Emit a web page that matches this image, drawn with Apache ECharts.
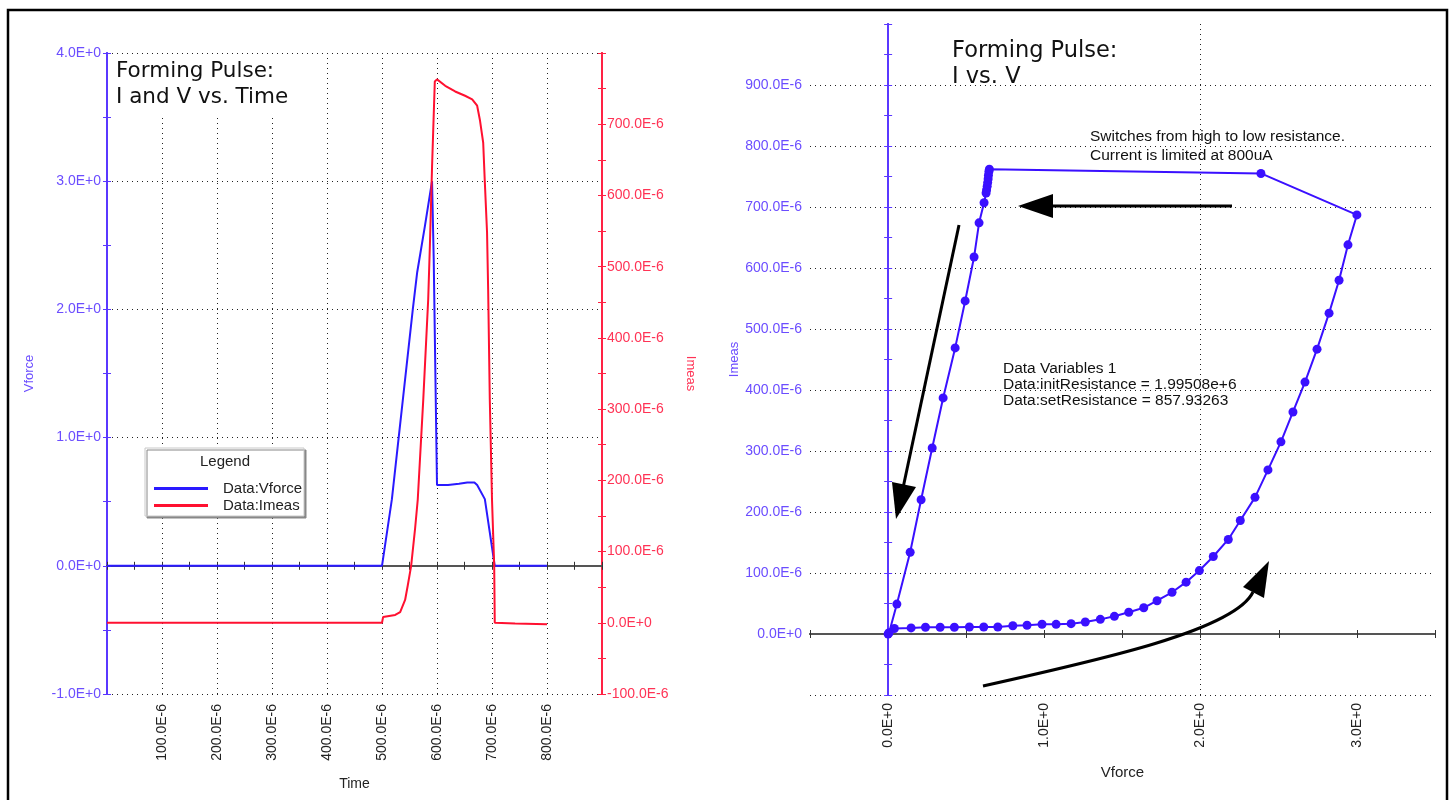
<!DOCTYPE html>
<html><head><meta charset="utf-8">
<script src="https://cdn.jsdelivr.net/npm/echarts/dist/echarts.min.js"></script>
<style>html,body{margin:0;padding:0;background:#fff}#c{width:1455px;height:800px}</style>
</head><body><div id="c"></div><script>
// ---- Left chart: Forming pulse, I and V vs. time (time in E-6 s, Imeas in E-6 A) ----
const timeV  = [0, 500, 518, 556, 564, 578, 591, 594, 600, 620, 640, 655, 668, 673, 687, 705, 800];
const vforce = [0, 0, 0.52, 2.0, 2.29, 2.65, 3.0, 2.4, 0.63, 0.63, 0.64, 0.65, 0.65, 0.63, 0.52, 0, 0];
const timeI  = [0, 500, 502, 524, 533, 542, 547, 553, 560, 565, 575, 584, 587, 591, 593, 596, 600, 615, 633, 651,
                664, 673, 678, 684, 687, 691, 693, 696, 700, 704, 705, 742, 800];
const imeas  = [0, 0, 8, 11, 15, 32, 53, 80, 131, 173, 313, 454, 528, 640, 688, 760, 763, 754, 746, 740,
                735, 726, 706, 674, 618, 548, 468, 313, 173, 80, 0, -1, -2];
// ---- Right chart: I vs. V (Imeas in E-6 A) ----
const ivV = [0, 0.04, 0.147, 0.239, 0.333, 0.424, 0.520, 0.612, 0.702, 0.798, 0.889, 0.985, 1.075, 1.171, 1.262,
             1.358, 1.448, 1.540, 1.636, 1.721, 1.817, 1.907, 1.992, 2.081, 2.177, 2.254, 2.348, 2.431, 2.514, 2.591,
             2.668, 2.745, 2.822, 2.886, 2.943, 3.0, 2.386, 0.648, 0.645, 0.642, 0.640, 0.637, 0.634, 0.630, 0.627, 0.614,
             0.582, 0.550, 0.493, 0.429, 0.352, 0.282, 0.211, 0.141, 0.056, 0.006];
const ivI = [0, 9, 10, 11, 11, 11, 11.5, 11.5, 11.5, 13.6, 14.3, 15.9, 15.8, 16.9, 19.7,
             24, 29, 35.6, 43, 54.6, 68.4, 85, 104, 127, 155, 186, 224, 269, 315, 364,
             413, 467, 526, 580, 638, 687, 755, 762, 758, 752, 746, 740, 734, 728, 723, 707,
             674, 618, 546, 469, 387, 305, 220, 134, 49, 2];
// ---- Texts ----
const leftTitle = 'Forming Pulse:\nI and V vs. Time';
const rightTitle = 'Forming Pulse:\nI vs. V';
const legendNames = ['Data:Vforce', 'Data:Imeas'];
const noteSwitch = 'Switches from high to low resistance.\nCurrent is limited at 800uA';
const noteVars = 'Data Variables 1\nData:initResistance = 1.99508e+6\nData:setResistance = 857.93263';

const FONT = 'Liberation Sans, Arial, sans-serif';
const TFONT = 'DejaVu Sans, Liberation Sans, sans-serif';
const BLUE_AX = '#5a38ff', BLUE_LBL = '#6b4dff', RED_AX = '#ff2244', RED_LBL = '#ff3355';
const BLUE_LN = '#2a1aff', RED_LN = '#ff1030', IV_C = '#3a10ff', ZERO = '#555';
const dotted = {show: true, showMinLine: true, showMaxLine: true, lineStyle: {type: [1, 4], color: '#222', width: 1}};
const fmtV = v => Math.abs(v) < 1e-9 ? '0.0E+0' : v.toFixed(1) + 'E+0';
const fmtU = v => Math.abs(v) < 1e-9 ? '0.0E+0' : v.toFixed(1) + 'E-6';
const zip = (a, b) => a.map((x, i) => [x, b[i]]);

// tick-only helper axis (drawn twice, outside + inside, to get ticks crossing the axis line)
function tickAxis(base, inside, color, lineColor) {
  return Object.assign({type: 'value', offset: 0, axisLabel: {show: false}, splitLine: {show: false},
    axisTick: {show: true, inside: inside, length: 4, lineStyle: {color: color, width: 1}},
    minorTick: {show: true, splitNumber: 2, length: 4, lineStyle: {color: color, width: 1}}}, base,
    {axisLine: Object.assign({show: true, lineStyle: {color: lineColor, width: 2}}, base.axisLine)});
}

const chart = echarts.init(document.getElementById('c'));
chart.setOption({
  animation: false,
  textStyle: {fontFamily: FONT},
  grid: [
    {left: 107, top: 53, width: 495, height: 641},
    {left: 810, top: 24, width: 625, height: 671}
  ],
  title: [
    {text: leftTitle, left: 112, top: 55, padding: [3, 10, 5, 4], backgroundColor: '#fff',
     textStyle: {fontSize: 21.5, fontWeight: 'normal', color: '#111', lineHeight: 26, fontFamily: TFONT}},
    {text: rightTitle, left: 948, top: 36, padding: [2, 4, 2, 4],
     textStyle: {fontSize: 22.5, fontWeight: 'normal', color: '#111', lineHeight: 26, fontFamily: TFONT}}
  ],
  legend: {data: legendNames, orient: 'vertical', left: 149, top: 475, z: 10, selectedMode: false,
    icon: 'rect', itemWidth: 54, itemHeight: 3, itemGap: 0,
    textStyle: {fontSize: 15, color: '#222', lineHeight: 17, padding: [0, 0, 0, 10], fontFamily: FONT}},
  xAxis: [
    // 0: time labels + vertical grid
    {gridIndex: 0, type: 'value', min: 0, max: 900, interval: 100, position: 'bottom',
     axisLine: {show: false, onZero: false}, axisTick: {show: false},
     axisLabel: {rotate: 90, margin: 10, fontSize: 14, color: '#222', formatter: v => (v > 0 && v < 900) ? fmtU(v) : ''},
     splitLine: Object.assign({}, dotted, {showMinLine: false, showMaxLine: false}),
     name: 'Time', nameLocation: 'middle', nameGap: 83, nameTextStyle: {fontSize: 14, color: '#222'}},
    // 1,2: zero line (Vforce = 0)
    tickAxis({gridIndex: 0, min: 0, max: 900, interval: 100, position: 'bottom',
      axisLine: {onZero: true, onZeroAxisIndex: 0}}, false, '#333', ZERO),
    tickAxis({gridIndex: 0, min: 0, max: 900, interval: 100, position: 'bottom',
      axisLine: {onZero: true, onZeroAxisIndex: 0}}, true, '#333', ZERO),
    // 3: Vforce labels + vertical grid (right chart)
    {gridIndex: 1, type: 'value', min: -0.5, max: 3.5, interval: 0.5, position: 'bottom',
     axisLine: {show: false, onZero: false}, axisTick: {show: false, customValues: [1, 2, 3]},
     axisLabel: {rotate: 90, margin: 8, fontSize: 14, color: '#222', customValues: [0, 1, 2, 3], formatter: fmtV},
     splitLine: Object.assign({}, dotted, {showMinLine: false, showMaxLine: false}),
     name: 'Vforce', nameLocation: 'middle', nameGap: 70, nameTextStyle: {fontSize: 15, color: '#222'}},
    // 4,5: zero line (Imeas = 0)
    tickAxis({gridIndex: 1, min: -0.5, max: 3.5, interval: 0.5, position: 'bottom', minorTick: {show: false},
      axisLine: {onZero: true, onZeroAxisIndex: 4}}, false, '#333', ZERO),
    tickAxis({gridIndex: 1, min: -0.5, max: 3.5, interval: 0.5, position: 'bottom', minorTick: {show: false},
      axisLine: {onZero: true, onZeroAxisIndex: 4}}, true, '#333', ZERO)
  ],
  yAxis: [
    // 0: Vforce
    {gridIndex: 0, type: 'value', min: -1, max: 4, interval: 1, position: 'left',
     axisLine: {show: true, onZero: false, lineStyle: {color: BLUE_AX, width: 2}},
     axisTick: {show: true, length: 4, lineStyle: {color: BLUE_AX}},
     minorTick: {show: true, splitNumber: 2, length: 4, lineStyle: {color: BLUE_AX}},
     axisLabel: {formatter: fmtV, color: BLUE_LBL, fontSize: 14, margin: 6},
     splitLine: dotted,
     name: 'Vforce', nameLocation: 'middle', nameGap: 71, nameTextStyle: {color: BLUE_LBL, fontSize: 13}},
    // 1: Vforce inside ticks
    tickAxis({gridIndex: 0, min: -1, max: 4, interval: 1, position: 'left',
      axisLine: {onZero: false}}, true, BLUE_AX, BLUE_AX),
    // 2: Imeas (left chart, right side)
    {gridIndex: 0, type: 'value', min: -100, max: 800, interval: 100, position: 'right',
     axisLine: {show: true, onZero: false, lineStyle: {color: RED_AX, width: 2}},
     axisTick: {show: true, length: 4, lineStyle: {color: RED_AX}},
     minorTick: {show: true, splitNumber: 2, length: 4, lineStyle: {color: RED_AX}},
     axisLabel: {formatter: v => v < 800 ? fmtU(v) : '', color: RED_LBL, fontSize: 14, margin: 5},
     splitLine: {show: false},
     name: 'Imeas', nameLocation: 'middle', nameRotate: -90, nameGap: 82, nameTextStyle: {color: RED_LBL, fontSize: 13}},
    // 3: Imeas inside ticks
    tickAxis({gridIndex: 0, min: -100, max: 800, interval: 100, position: 'right',
      axisLine: {onZero: false}}, true, RED_AX, RED_AX),
    // 4: right chart Imeas labels + horizontal grid
    {gridIndex: 1, type: 'value', min: -100, max: 1000, interval: 100, position: 'left',
     axisLine: {show: false, onZero: false}, axisTick: {show: false},
     axisLabel: {formatter: v => (v >= 0 && v <= 900) ? fmtU(v) : '', color: BLUE_LBL, fontSize: 14, margin: 8},
     splitLine: Object.assign({}, dotted, {showMaxLine: false}),
     name: 'Imeas', nameLocation: 'middle', nameGap: 69, nameTextStyle: {color: BLUE_LBL, fontSize: 13}},
    // 5,6: right chart axis at Vforce = 0
    tickAxis({gridIndex: 1, min: -100, max: 1000, interval: 100, position: 'left',
      axisLine: {onZero: true, onZeroAxisIndex: 3}}, false, BLUE_AX, BLUE_AX),
    tickAxis({gridIndex: 1, min: -100, max: 1000, interval: 100, position: 'left',
      axisLine: {onZero: true, onZeroAxisIndex: 3}}, true, BLUE_AX, BLUE_AX)
  ],
  series: [
    {name: legendNames[0], type: 'line', xAxisIndex: 0, yAxisIndex: 0, data: zip(timeV, vforce),
     symbol: 'none', lineStyle: {color: BLUE_LN, width: 2}, itemStyle: {color: BLUE_LN}, z: 3},
    {name: legendNames[1], type: 'line', xAxisIndex: 0, yAxisIndex: 2, data: zip(timeI, imeas),
     symbol: 'none', lineStyle: {color: RED_LN, width: 2}, itemStyle: {color: RED_LN}, z: 3},
    {name: 'IV', type: 'line', xAxisIndex: 3, yAxisIndex: 4, data: zip(ivV, ivI),
     symbol: 'circle', symbolSize: 9, lineStyle: {color: IV_C, width: 2}, itemStyle: {color: IV_C}, z: 3}
  ],
  graphic: [
    {type: 'rect', shape: {x: 8, y: 10, width: 1439, height: 800}, style: {fill: 'none', stroke: '#000', lineWidth: 2.5}, z: 20},
    // legend box
    {type: 'rect', shape: {x: 145, y: 448, width: 159, height: 68}, z: 5,
     style: {fill: '#fff', stroke: '#c8c8c8', lineWidth: 1, shadowColor: '#888', shadowOffsetX: 2, shadowOffsetY: 2, shadowBlur: 0}},
    {type: 'text', left: 200, top: 454, z: 11, style: {text: 'Legend', fill: '#222', font: '15px ' + FONT}},
    // annotations
    {type: 'text', left: 1090, top: 127, z: 11, style: {text: noteSwitch, fill: '#111', font: '15.5px ' + FONT, lineHeight: 19}},
    {type: 'text', left: 1003, top: 361, z: 11, style: {text: noteVars, fill: '#111', font: '15.5px ' + FONT, lineHeight: 16}},
    // arrow 1 (horizontal)
    {type: 'line', shape: {x1: 1232, y1: 206, x2: 1050, y2: 206}, style: {stroke: '#000', lineWidth: 3}, z: 11},
    {type: 'polygon', shape: {points: [[1018, 206], [1053, 194], [1053, 218]]}, style: {fill: '#000'}, z: 11},
    // arrow 2 (diagonal)
    {type: 'line', shape: {x1: 959, y1: 225, x2: 903, y2: 488}, style: {stroke: '#000', lineWidth: 3}, z: 11},
    {type: 'polygon', shape: {points: [[896, 519], [892, 482], [916, 487]]}, style: {fill: '#000'}, z: 11},
    // arrow 3 (curved)
    {type: 'bezierCurve', shape: {x1: 983, y1: 686, cpx1: 1100, cpy1: 660, cpx2: 1235, cpy2: 630, x2: 1253, y2: 592},
     style: {stroke: '#000', lineWidth: 3, fill: 'none'}, z: 11},
    {type: 'polygon', shape: {points: [[1269, 561], [1243, 587], [1264, 598]]}, style: {fill: '#000'}, z: 11}
  ]
});
</script></body></html>
